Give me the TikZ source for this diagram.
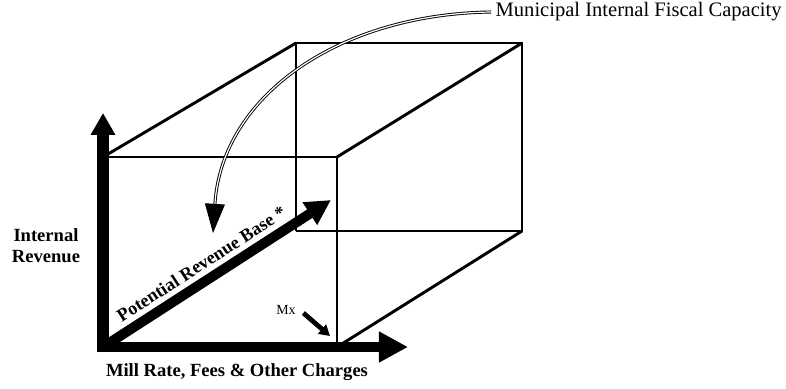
\documentclass[tikz,border=0pt]{standalone}
\usepackage{fontspec}
\setmainfont{Liberation Serif}
\usetikzlibrary{arrows.meta,positioning,calc}

\begin{document}
\begin{tikzpicture}[
    x=0.0265cm, y=-0.0265cm,
    edge/.style={draw=black, line width=2.2pt},
    axisv/.style={draw=black, line width=8.5pt, -{Triangle[length=16.5pt, width=17.5pt]}},
    axish/.style={draw=black, line width=7pt, -{Triangle[length=22pt, width=22pt]}},
    basearrow/.style={draw=black, line width=7.5pt, -{Triangle[length=19pt, width=19pt]}},
    fiscal/.style={draw=black, line width=0.7pt, double, double distance=0.9pt, -{Triangle[length=22pt, width=15pt]}},
    mxarrow/.style={draw=black, line width=3.6pt, -{Triangle[length=8pt, width=9pt]}},
    axislab/.style={font=\fontsize{14}{16}\selectfont\bfseries, align=center},
    lab/.style={font=\fontsize{15.5}{18}\selectfont}
]
    % Ecken des Quaders
    \coordinate (o)   at (103,347);
    \coordinate (ftl) at (103,157);
    \coordinate (ftr) at (337,157);
    \coordinate (fbr) at (337,347);
    \coordinate (btl) at (296,43);
    \coordinate (btr) at (522,43);
    \coordinate (bbr) at (522,231);
    \coordinate (bbl) at (296,231);
    \useasboundingbox (0,0) rectangle (786,388);

    % Kanten
    \draw[edge] (ftl) -- (ftr) -- (fbr);
    \draw[edge] (bbl) -- (btl) -- (btr) -- (bbr) -- (bbl);
    \draw[edge] (ftl) -- (btl);
    \draw[edge] (ftr) -- (btr);
    \draw[edge] (fbr) -- (bbr);

    % Achsen
    \coordinate (ytip) at (103,113);
    \coordinate (xtip) at (408,347);
    \coordinate (ztip) at (331,200);
    \draw[axisv] ($(o)+(0,5)$) -- (ytip);
    \draw[axish] ($(o)+(-6,0)$) -- (xtip);
    \draw[basearrow] (o) -- (ztip)
        node[pos=0.47, sloped, above=0.5pt, font=\fontsize{13.8}{16}\selectfont\bfseries] (base) {Potential Revenue Base *};

    % Beschriftungen
    \node[axislab] (rev) at (46,246) {Internal\\Revenue};
    \node[axislab] (mill) at (237,372) {Mill Rate, Fees \& Other Charges};
    \node[font=\fontsize{10.5}{12}\selectfont] (mx) at (286,310) {Mx};
    \coordinate (mxtip) at (330,336);
    \draw[mxarrow] ($(mx.east)+(3,3)$) -- (mxtip);

    % Fiskalkapazitaet
    \node[lab, anchor=west] (cap) at (491,12) {Municipal Internal Fiscal Capacity};
    \coordinate (captip) at (213,233);
    \draw[fiscal] (cap.west) .. controls (340,14) and (222,95) .. (captip);
\end{tikzpicture}
\end{document}
